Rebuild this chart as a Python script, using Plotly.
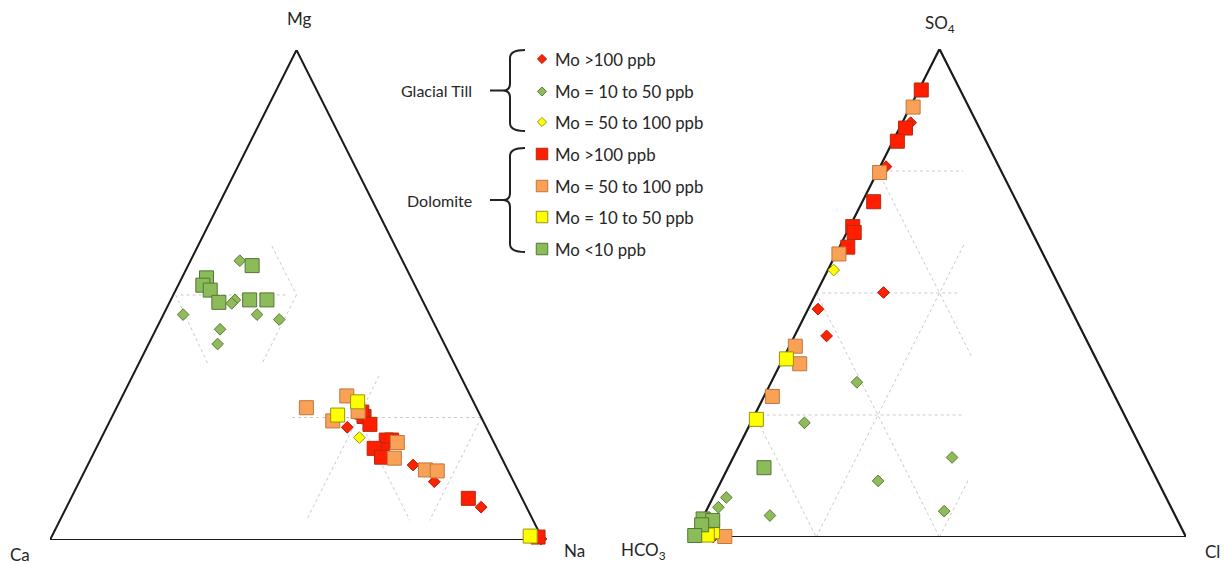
import plotly.graph_objects as go

W, H = 1228, 564

# ---------------- cation composition, % meq : (Ca, Mg, Na) ----------------
cat_till_gt100 = [(28.2, 23.0, 48.8), (18.7, 15.3, 66.0), (16.1, 11.9, 72.0),
                  (9.2, 6.7, 84.1), (0.3, 0.2, 99.5)]
cat_till_10_50 = [(33.0, 57.0, 10.0), (50.0, 46.0, 4.0), (44.0, 43.0, 13.0),
                  (46.0, 40.0, 14.0), (38.0, 49.0, 13.0), (39.0, 48.3, 12.7),
                  (35.0, 46.0, 19.0), (31.0, 45.0, 24.0)]
cat_till_50_100 = [(26.8, 20.9, 52.3)]
cat_dol_gt100 = [(23.7, 25.2, 51.1), (23.7, 26.1, 50.2), (23.3, 23.6, 53.1),
                 (20.5, 20.4, 59.1), (21.6, 20.4, 58.0), (23.3, 18.4, 58.3),
                 (24.9, 18.7, 56.4), (24.3, 16.9, 58.8), (10.9, 8.5, 80.6),
                 (0.7, 0.6, 98.7)]
cat_dol_50_100 = [(34.5, 27.0, 38.5), (25.1, 29.4, 45.5), (30.5, 24.3, 45.2),
                  (24.4, 26.2, 49.4), (19.6, 19.9, 60.5), (21.8, 16.7, 61.5),
                  (16.7, 14.3, 69.0), (14.4, 14.1, 71.5)]
cat_dol_10_50 = [(23.5, 28.2, 48.3), (28.9, 25.5, 45.6), (2.2, 0.8, 97.0)]
cat_dol_lt10 = [(31.0, 56.0, 13.0), (41.5, 53.5, 5.0), (43.0, 52.0, 5.0),
                (42.0, 51.0, 7.0), (41.5, 48.5, 10.0), (35.0, 49.0, 16.0),
                (31.5, 49.0, 19.5)]

# ---------------- anion composition, % meq : (HCO3, SO4, Cl) ----------------
an_till_gt100 = [(13.4, 84.9, 1.7), (22.9, 75.9, 1.2), (36.3, 50.1, 13.6),
                 (51.3, 46.7, 2.0), (52.3, 41.2, 6.5), (95.9, 0.0, 4.1)]
an_till_10_50 = [(50.9, 31.7, 17.4), (65.7, 23.4, 10.9), (39.3, 16.3, 44.4),
                 (56.7, 11.5, 31.8), (46.4, 5.3, 48.3), (82.2, 4.4, 13.4),
                 (89.2, 8.1, 2.7), (91.8, 6.1, 2.1)]
an_till_50_100 = [(44.1, 54.7, 1.2)]
an_dol_gt100 = [(7.9, 91.6, 0.5), (15.0, 83.8, 1.2), (18.0, 81.1, 0.9),
                (29.0, 68.7, 2.3), (35.8, 63.6, 0.6), (36.1, 62.4, 1.5),
                (38.9, 59.4, 1.7)]
an_dol_50_100 = [(11.3, 88.1, 0.6), (24.8, 74.7, 0.5), (41.4, 58.0, 0.6),
                 (59.7, 39.1, 1.2), (60.6, 35.5, 3.9), (69.5, 28.8, 1.7),
                 (93.5, 0.1, 6.4)]
an_dol_10_50 = [(62.8, 36.5, 0.7), (75.1, 24.1, 0.8), (95.5, 1.1, 3.4),
                (96.9, 0.4, 2.7)]
an_dol_lt10 = [(78.5, 14.2, 7.3), (96.1, 3.7, 0.2), (94.3, 3.4, 2.3),
               (97.0, 2.5, 0.5), (99.5, 0.3, 0.2)]

legend_labels = ["Mo >100 ppb", "Mo = 10 to 50 ppb", "Mo = 50 to 100 ppb",
                 "Mo >100 ppb", "Mo = 50 to 100 ppb", "Mo = 10 to 50 ppb",
                 "Mo <10 ppb"]
group_labels = ["Glacial Till", "Dolomite"]
cation_labels = ["Ca", "Mg", "Na"]
anion_labels = ["HCO<sub>3</sub>", "SO<sub>4</sub>", "Cl"]

# series: (cation data, anion data, symbol, fill, edge)
series = [
    (cat_till_gt100, an_till_gt100, "diamond", "#ff2200", "#b31800"),
    (cat_till_10_50, an_till_10_50, "diamond", "#8fbb5a", "#5b7b38"),
    (cat_till_50_100, an_till_50_100, "diamond", "#ffff00", "#9c9a00"),
    (cat_dol_gt100, an_dol_gt100, "square", "#ff1e00", "#b52a10"),
    (cat_dol_50_100, an_dol_50_100, "square", "#f9a257", "#c0773c"),
    (cat_dol_10_50, an_dol_10_50, "square", "#ffff00", "#96940e"),
    (cat_dol_lt10, an_dol_lt10, "square", "#8cbc5a", "#557536"),
]
# plotting order: diamonds underneath, then dolomite squares
draw_order = [0, 1, 2, 3, 4, 5, 6]

FONT = "Lato"
INK = "#262626"
GRID = "#c9c9c9"
CLEAR = "rgba(0,0,0,0)"


def to_xy(points):
    """(left, top, right) percentages -> coordinates in a unit triangle."""
    xs, ys = [], []
    for left, top, right in points:
        tot = left + top + right
        t, r = top / tot, right / tot
        xs.append(r + t / 2)
        ys.append(t)
    return xs, ys


def seg_xy(a, b):
    # a, b given as (top %, right %)
    pts = [(100 - a[0] - a[1], a[0], a[1]), (100 - b[0] - b[1], b[0], b[1])]
    return to_xy(pts)


# partial 25 % guide lines, (top, right) end points
cation_guides = [
    ((50, 1.5), (50, 23)), ((60, 15), (50, 25)), ((50, 25), (36, 25)),
    ((50, 0.5), (36, 14)),
    ((25, 36.6), (25, 75)), ((33.5, 50), (4, 50)), ((25, 50), (4, 71)),
    ((25, 75), (4, 75)),
]
anion_guides = [
    ((75, 0), (75, 17.3)), ((50, 0), (50, 29)), ((25, 0), (25, 42)),
    ((75, 0), (37, 38)), ((50, 0), (0, 50)), ((25, 0), (0, 25)),
    ((0, 25), (60, 25)), ((0, 50), (12, 50)),
]

fig = go.Figure()


def add_triangle(xa, ya, data_idx, guides, edge_w):
    for a, b in guides:
        gx, gy = seg_xy(a, b)
        fig.add_trace(go.Scatter(x=gx, y=gy, mode="lines", xaxis=xa, yaxis=ya,
                                 line=dict(color=GRID, width=1, dash="3px,3px"),
                                 hoverinfo="skip", showlegend=False))
    fig.add_trace(go.Scatter(x=[0, 0.5, 1, 0], y=[0, 1, 0, 0], mode="lines",
                             xaxis=xa, yaxis=ya,
                             line=dict(color="#1a1a1a", width=edge_w),
                             hoverinfo="skip", showlegend=False))
    for i in draw_order:
        s = series[i]
        px, py = to_xy(s[data_idx])
        size = 9 if s[2] == "diamond" else 14
        fig.add_trace(go.Scatter(
            x=px, y=py, mode="markers", xaxis=xa, yaxis=ya, cliponaxis=False,
            marker=dict(symbol=s[2], size=size, color=s[3],
                        line=dict(color=s[4], width=1)),
            showlegend=False))


add_triangle("x", "y", 0, cation_guides, 2)
add_triangle("x2", "y2", 1, anion_guides, 2.2)

# ---------------- key with group braces (pixel overlay axis) ----------------
row_y = [59, 91.5, 122, 154, 186, 217, 249]
key_x, text_x = 542, 553
for i, s in enumerate(series):
    size = 7 if s[2] == "diamond" else 11.5
    fig.add_trace(go.Scatter(
        x=[key_x], y=[row_y[i]], mode="markers", xaxis="x3", yaxis="y3",
        cliponaxis=False,
        marker=dict(symbol=s[2], size=size, color=s[3],
                    line=dict(color=s[4], width=1)),
        hoverinfo="skip", showlegend=False))

annotations = []
for i, lab in enumerate(legend_labels):
    annotations.append(dict(x=text_x, y=row_y[i], xref="x3", yref="y3",
                            text=lab, showarrow=False, xanchor="left",
                            yanchor="middle",
                            font=dict(family=FONT, size=16.8, color=INK)))


def brace(top, bottom, xs=510, hook=525, tip=490):
    mid = (top + bottom) / 2
    return (f"M {hook},{top} Q {xs},{top} {xs},{top + 8} L {xs},{mid - 7} "
            f"Q {xs},{mid} {xs - 7},{mid} L {tip},{mid} "
            f"M {xs - 7},{mid} Q {xs},{mid} {xs},{mid + 7} "
            f"L {xs},{bottom - 8} Q {xs},{bottom} {hook},{bottom}")


shapes = []
for (top, bottom), lab in zip([(50, 131), (148, 252)], group_labels):
    shapes.append(dict(type="path", xref="x3", yref="y3",
                       path=brace(top, bottom),
                       line=dict(color="#222222", width=2)))
    annotations.append(dict(x=474, y=(top + bottom) / 2, xref="x3", yref="y3",
                            text=lab, showarrow=False, xanchor="right",
                            yanchor="middle",
                            font=dict(family=FONT, size=16, color=INK)))

# ---------------- corner labels ----------------
corner_font = dict(family=FONT, size=17, color=INK)
corners = [
    ("x", "y", cation_labels, [(0, 0, -30, -14), (0.5, 1, 3, 31), (1, 0, 31, -10)]),
    ("x2", "y2", anion_labels, [(0, 0, -50, -14), (0.5, 1, 0, 25), (1, 0, 26, -14)]),
]
for xa, ya, labels, spots in corners:
    for lab, (cx, cy, dx, dy) in zip(labels, spots):
        annotations.append(dict(x=cx, y=cy, xref=xa, yref=ya, text=lab,
                                showarrow=False, xshift=dx, yshift=dy,
                                font=corner_font))

ax_off = dict(visible=False, showgrid=False, zeroline=False, fixedrange=True)
fig.update_layout(
    width=W, height=H,
    margin=dict(l=0, r=0, t=0, b=0),
    paper_bgcolor="white", plot_bgcolor=CLEAR,
    showlegend=False,
    xaxis=dict(domain=[50 / W, 543 / W], range=[0, 1], **ax_off),
    yaxis=dict(domain=[(H - 540) / H, (H - 50) / H], range=[0, 1], **ax_off),
    xaxis2=dict(domain=[693 / W, 1186 / W], range=[0, 1], anchor="y2", **ax_off),
    yaxis2=dict(domain=[(H - 537) / H, (H - 49) / H], range=[0, 1], anchor="x2", **ax_off),
    xaxis3=dict(domain=[0, 1], range=[0, W], anchor="y3", **ax_off),
    yaxis3=dict(domain=[0, 1], range=[H, 0], anchor="x3", **ax_off),
    shapes=shapes,
    annotations=annotations,
)

fig.write_html("out.html")
